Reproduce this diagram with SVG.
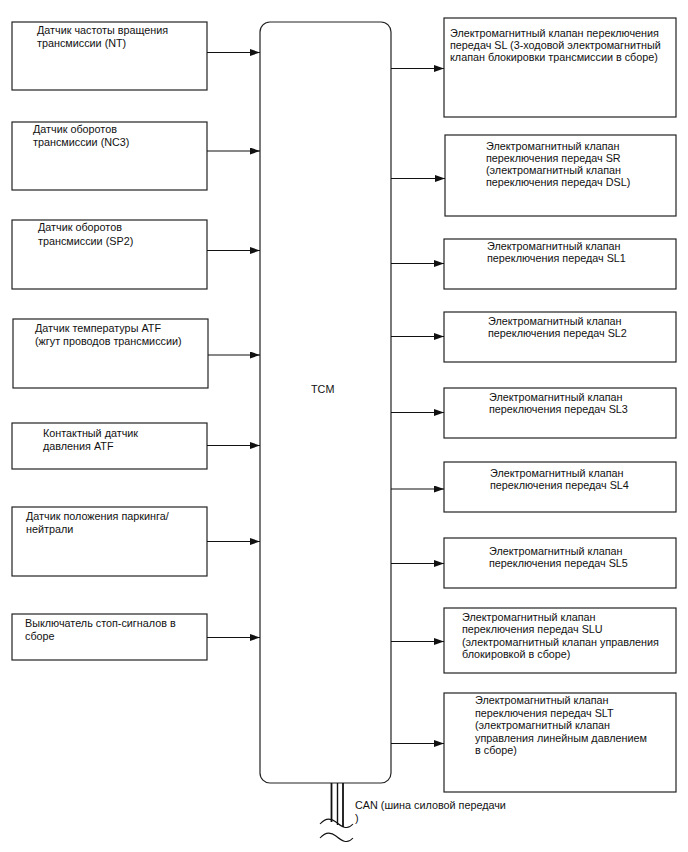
<svg xmlns="http://www.w3.org/2000/svg" width="688" height="852" viewBox="0 0 688 852">
<defs>
<style>
.box{fill:#fff;stroke:#222;stroke-width:1.2}
.t{font-family:"Liberation Sans",Arial,sans-serif;font-size:10.8px;fill:#111}
.c{stroke:#111;stroke-width:1.1;fill:none}
</style>
<marker id="ah" markerUnits="userSpaceOnUse" markerWidth="10" markerHeight="7" refX="10" refY="3.5" orient="auto">
<path d="M0,0 L10,3.5 L0,7 z" fill="#111"/>
</marker>
</defs>
<rect width="688" height="852" fill="#fff"/>

<g id="tcm">
<rect class="box" x="260" y="22" width="131" height="761" rx="10" ry="10"/>
<text class="t" x="311" y="393">TCM</text>
</g>

<g id="in1"><rect class="box" x="12" y="22" width="195" height="68"/>
<text class="t" x="37" y="34">Датчик частоты вращения</text>
<text class="t" x="37" y="46.5">трансмиссии (NT)</text></g>

<g id="in2"><rect class="box" x="12" y="122" width="195" height="68"/>
<text class="t" x="33" y="133">Датчик оборотов</text>
<text class="t" x="33" y="146">трансмиссии (NC3)</text></g>

<g id="in3"><rect class="box" x="12" y="220" width="195" height="69"/>
<text class="t" x="38" y="231">Датчик оборотов</text>
<text class="t" x="38" y="244.5">трансмиссии (SP2)</text></g>

<g id="in4"><rect class="box" x="13" y="319" width="195" height="69"/>
<text class="t" x="35" y="332">Датчик температуры ATF</text>
<text class="t" x="35" y="345">(жгут проводов трансмиссии)</text></g>

<g id="in5"><rect class="box" x="12" y="423" width="195" height="46"/>
<text class="t" x="43" y="437">Контактный датчик</text>
<text class="t" x="43" y="450">давления ATF</text></g>

<g id="in6"><rect class="box" x="12" y="507" width="195" height="69"/>
<text class="t" x="26" y="520">Датчик положения паркинга/</text>
<text class="t" x="26" y="532.5">нейтрали</text></g>

<g id="in7"><rect class="box" x="12" y="614" width="195" height="46"/>
<text class="t" x="25" y="627">Выключатель стоп-сигналов в</text>
<text class="t" x="25" y="640">сборе</text></g>

<g id="out1"><rect class="box" x="444" y="18" width="232" height="99"/>
<text class="t" x="450" y="37">Электромагнитный клапан переключения</text>
<text class="t" x="450" y="49">передач SL (3-ходовой электромагнитный</text>
<text class="t" x="450" y="61">клапан блокировки трансмиссии в сборе)</text></g>

<g id="out2"><rect class="box" x="445" y="135" width="231" height="81"/>
<text class="t" x="486" y="150">Электромагнитный клапан</text>
<text class="t" x="486" y="162">переключения передач SR</text>
<text class="t" x="486" y="174">(электромагнитный клапан</text>
<text class="t" x="486" y="186">переключения передач DSL)</text></g>

<g id="out3"><rect class="box" x="444" y="239" width="232" height="50"/>
<text class="t" x="487" y="250">Электромагнитный клапан</text>
<text class="t" x="487" y="262">переключения передач SL1</text></g>

<g id="out4"><rect class="box" x="444" y="312" width="232" height="50"/>
<text class="t" x="488" y="325">Электромагнитный клапан</text>
<text class="t" x="488" y="337">переключения передач SL2</text></g>

<g id="out5"><rect class="box" x="444" y="388" width="232" height="50"/>
<text class="t" x="489" y="400.5">Электромагнитный клапан</text>
<text class="t" x="489" y="412.5">переключения передач SL3</text></g>

<g id="out6"><rect class="box" x="444" y="462" width="232" height="50"/>
<text class="t" x="490" y="477">Электромагнитный клапан</text>
<text class="t" x="490" y="489">переключения передач SL4</text></g>

<g id="out7"><rect class="box" x="444" y="538" width="232" height="50"/>
<text class="t" x="489" y="555">Электромагнитный клапан</text>
<text class="t" x="489" y="567">переключения передач SL5</text></g>

<g id="out8"><rect class="box" x="444" y="608" width="232" height="65"/>
<text class="t" x="462" y="620.5">Электромагнитный клапан</text>
<text class="t" x="462" y="633">переключения передач SLU</text>
<text class="t" x="462" y="645.5">(электромагнитный клапан управления</text>
<text class="t" x="462" y="658">блокировкой в сборе)</text></g>

<g id="out9"><rect class="box" x="444" y="693" width="232" height="99"/>
<text class="t" x="475" y="704">Электромагнитный клапан</text>
<text class="t" x="475" y="716.5">переключения передач SLT</text>
<text class="t" x="475" y="729">(электромагнитный клапан</text>
<text class="t" x="475" y="741.5">управления линейным давлением</text>
<text class="t" x="475" y="754">в сборе)</text></g>

<g id="can">
<text class="t" x="355" y="809">CAN (шина силовой передачи</text>
<text class="t" x="355" y="822">)</text>
</g>

<g id="connectors">
<line class="c" x1="207" y1="52.5" x2="260" y2="52.5" marker-end="url(#ah)"/>
<line class="c" x1="207" y1="151" x2="260" y2="151" marker-end="url(#ah)"/>
<line class="c" x1="207" y1="250.5" x2="260" y2="250.5" marker-end="url(#ah)"/>
<line class="c" x1="208" y1="355" x2="260" y2="355" marker-end="url(#ah)"/>
<line class="c" x1="207" y1="445.5" x2="260" y2="445.5" marker-end="url(#ah)"/>
<line class="c" x1="207" y1="541.5" x2="260" y2="541.5" marker-end="url(#ah)"/>
<line class="c" x1="207" y1="637.5" x2="260" y2="637.5" marker-end="url(#ah)"/>

<line class="c" x1="391" y1="68.5" x2="444" y2="68.5" marker-end="url(#ah)"/>
<line class="c" x1="391" y1="178.5" x2="445" y2="178.5" marker-end="url(#ah)"/>
<line class="c" x1="391" y1="263.5" x2="444" y2="263.5" marker-end="url(#ah)"/>
<line class="c" x1="391" y1="336.5" x2="444" y2="336.5" marker-end="url(#ah)"/>
<line class="c" x1="391" y1="412.5" x2="444" y2="412.5" marker-end="url(#ah)"/>
<line class="c" x1="391" y1="489" x2="444" y2="489" marker-end="url(#ah)"/>
<line class="c" x1="391" y1="563.5" x2="444" y2="563.5" marker-end="url(#ah)"/>
<line class="c" x1="391" y1="641.5" x2="444" y2="641.5" marker-end="url(#ah)"/>
<line class="c" x1="391" y1="743.5" x2="444" y2="743.5" marker-end="url(#ah)"/>

<line x1="331.5" y1="783" x2="331.5" y2="822" stroke="#111" stroke-width="1.8"/>
<line x1="337.5" y1="783" x2="337.5" y2="825" stroke="#111" stroke-width="1.4"/>
<line x1="343" y1="783" x2="343" y2="827" stroke="#111" stroke-width="1.8"/>
<path class="c" d="M320,824 C326,817 331,818 336,822 S347,831 353,824"/>
<path class="c" d="M320,838 C326,831 331,832 336,836 S347,845 353,838"/>
</g>
</svg>
